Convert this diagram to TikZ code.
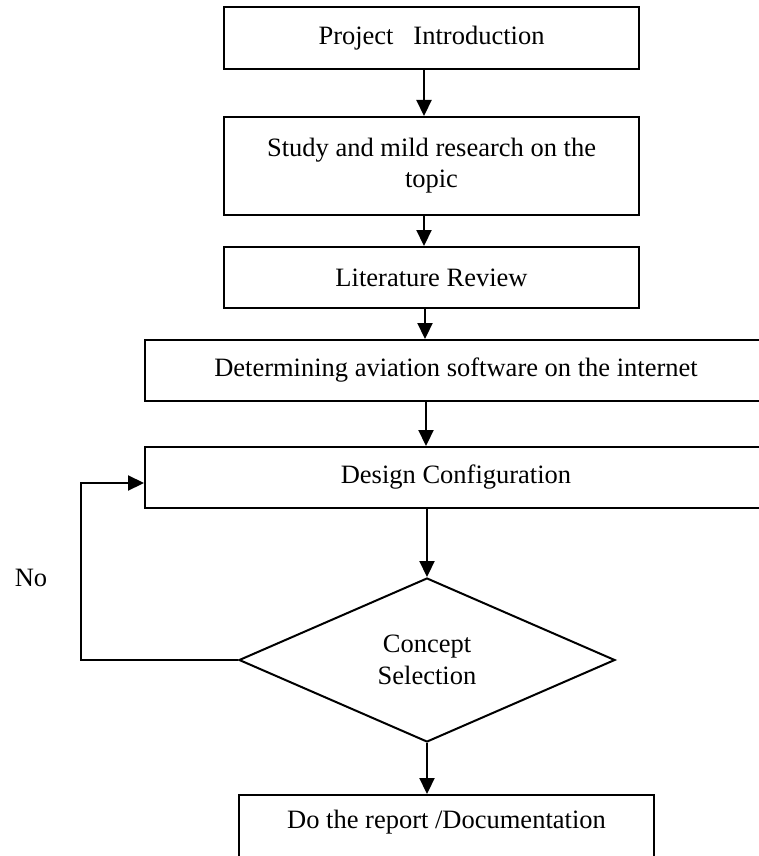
\documentclass[tikz,border=0pt]{standalone}
\usepackage{fontspec}
\setmainfont{Liberation Serif}
\usetikzlibrary{shapes.geometric,arrows.meta,calc}
\begin{document}
\begin{tikzpicture}[x=1pt,y=-1pt,
  txt/.style={font=\fontsize{26.5}{31}\selectfont,align=center},
  box/.style={txt,draw,line width=2pt,rectangle,inner sep=0pt},
  decision/.style={txt,draw,line width=2pt,diamond,inner sep=0pt,font=\fontsize{26.5}{32}\selectfont},
  arr/.style={line width=2.2pt,-{Triangle[length=16pt,width=15pt]}}]
\useasboundingbox[fill=white] (0,0) rectangle (758,856);

\node[box,minimum width=415pt,minimum height=62pt] (b1) at (431.5,38) {Project\ \ \ Introduction};
\node[box,minimum width=415pt,minimum height=98pt] (b2) at (431.5,166) {Study and mild research on the\\topic};
\node[box,minimum width=415pt,minimum height=61pt] (b3) at (431.5,277.5) {Literature Review};
\node[box,minimum width=622pt,minimum height=61pt] (b4) at (456,370.5) {Determining aviation software on the internet};
\node[box,minimum width=622pt,minimum height=61pt] (b5) at (456,477.5) {Design Configuration};
\node[decision,minimum width=376pt,minimum height=164pt] (dia) at (427,660) {Concept\\Selection};
\node[box,minimum width=415pt,minimum height=90pt] (b6) at (446.5,840) {};
\node[txt] (b6t) at ([yshift=-28pt]b6.north) {Do the report /Documentation};
\node[txt] (no) at (31,578) {No};

\coordinate (ax) at (424,0);
\coordinate (fb) at (81,483);

\draw[arr] (ax |- b1.south) -- (ax |- b2.north);
\draw[arr] (ax |- b2.south) -- (ax |- b3.north);
\draw[arr] ([xshift=1pt]ax |- b3.south) -- ([xshift=1pt]ax |- b4.north);
\draw[arr] ([xshift=2pt]ax |- b4.south) -- ([xshift=2pt]ax |- b5.north);
\draw[arr] (dia.north |- b5.south) -- (dia.north);
\draw[arr] (dia.south) -- (dia.south |- b6.north);
\draw[arr] (dia.west) -- (dia.west -| fb) -- (fb) -- (fb -| b5.west);
\end{tikzpicture}
\end{document}
